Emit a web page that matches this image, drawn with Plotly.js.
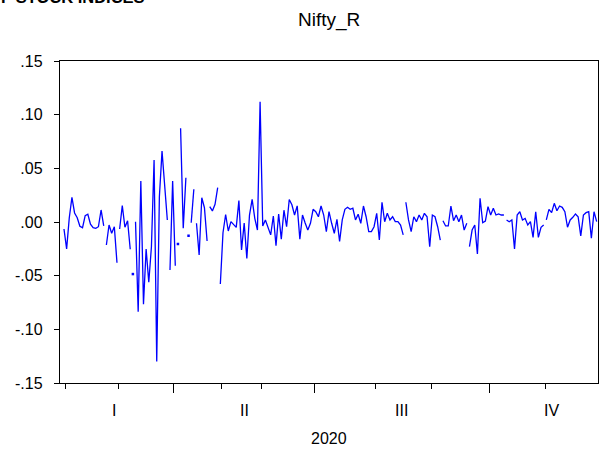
<!DOCTYPE html>
<html>
<head>
<meta charset="utf-8">
<script src="https://cdn.plot.ly/plotly-3.0.1.min.js"></script>
<style>html,body{margin:0;padding:0;background:#fff;}#chart{width:599px;height:450px;}</style>
</head>
<body>
<div id="chart"></div>
<script>
// Nifty_R daily returns, observation order (2020)
const niftyR = [
  -0.0065, -0.025, 0.004, 0.023, 0.0084, 0.004, -0.004, -0.0053, 0.0059, 0.0072, -0.0021, -0.0053, -0.0059, -0.0044, 0.0112, -0.0037,
  -0.0214, -0.0028, -0.0105, -0.0044, -0.038,
  -0.0065, 0.0152, -0.0049, 0.0012, -0.0254,
  -0.0485,
  0.0003, -0.0836, 0.0382, -0.0767, -0.0252, -0.0562, -0.023, 0.0578, -0.130, 0.0236, 0.066, 0.0298, 0.0019,
  -0.0447, 0.0382, -0.0407,
  -0.0205,
  0.0873, -0.0059, 0.0413,
  -0.0128,
  -0.0007, 0.0305,
  -0.0012, -0.0308, 0.0226, 0.0133, -0.0177,
  0.0143, 0.0103, 0.0165, 0.032,
  -0.0578, -0.01, 0.007, -0.0084, 0.0003, -0.002, -0.005, 0.020, -0.026, -0.001, -0.034, 0.0065, 0.021, 0.0034, -0.0075, 0.112, -0.0037, 0.0019, -0.005, -0.012, 0.0056, -0.022, 0.0075, -0.016, 0.011, -0.0044, 0.021, 0.016, 0.0065, 0.015, -0.016, 0.0065, -0.001, -0.0075, -0.0012,
  0.0118, 0.0096, 0.0049, 0.0149, 0.0065, -0.009, 0.0096, -0.0012, -0.0105, 0.0025, -0.018, 0.0019, 0.0118, 0.0137, 0.0118, 0.0128, 0.0019, 0.0072, -0.0012, 0.0149, 0.0049, -0.009, -0.009, -0.0044, 0.0081, -0.0168, 0.0184, 0.0003, 0.0081, 0.0019, 0.0049, 0.0003, 0.0003, -0.0028, -0.012,
  0.0184, 0.0019, -0.009, 0.0049, 0.0003, 0.0065, 0.0019, 0.0081, 0.0049, -0.023, 0.0065, 0.0049, -0.0044, -0.0168,
  0.0012, -0.0037, -0.0037, 0.0149, 0.0012, 0.0065, 0.0003, 0.0065, -0.0075, -0.0012,
  -0.023, -0.0075, -0.0028, -0.0298, 0.0221, -0.0007, 0.0009, 0.0143, 0.0065, 0.0128, 0.0065, 0.0075, 0.0065, 0.0065,
  0.0019, 0.0003, 0.0019, -0.0252, 0.0065, 0.0096, 0.0019, 0.0034, -0.0028, 0.0003, -0.0143, 0.0096, -0.0143, -0.0049, -0.0028,
  0.0019, 0.0118, 0.0087, 0.0174, 0.0105, 0.0149, 0.0137, 0.0096, -0.0049, 0.0019, 0.0044, 0.0075, 0.0049, -0.013, 0.0065, 0.0087, 0.0096, -0.0152, 0.0096, 0.0003
];
// observations where the line restarts after a missing value
const segStarts = [16, 21, 26, 27, 40, 43, 44, 47, 48, 50, 55, 59, 129, 143, 153, 167, 182];
// month boundaries (observation index) and quarter labels
const quarterStarts = [42, 95, 161];
const monthStarts = [1, 21, 60, 75, 118, 139, 182];
const quarterLabels = ['I', 'II', 'III', 'IV'];
const quarterCenters = [19, 68, 127.5, 184];
const yTickVals = [-0.15, -0.10, -0.05, 0.00, 0.05, 0.10, 0.15];
const yTickText = ['-.15', '-.10', '-.05', '.00', '.05', '.10', '.15'];
const yearLabel = '2020';
const seriesName = 'Nifty_R';
const pageTitle = 'F STOCK INDICES';

const blue = '#0000FF';
const bounds = [0].concat(segStarts).concat([niftyR.length]);
const traces = [];
for (let s = 0; s < bounds.length - 1; s++) {
  const xs = [], ys = [];
  for (let i = bounds[s]; i < bounds[s + 1]; i++) { xs.push(i); ys.push(niftyR[i]); }
  if (xs.length > 1) {
    traces.push({x: xs, y: ys, type: 'scatter', mode: 'lines', line: {color: blue, width: 1.3}, showlegend: false, hoverinfo: 'skip'});
  } else {
    traces.push({x: xs, y: ys, type: 'scatter', mode: 'markers', marker: {color: blue, size: 2.5, symbol: 'square'}, showlegend: false, hoverinfo: 'skip'});
  }
}

const font = 'Liberation Sans, Arial, sans-serif';
const annotations = quarterLabels.map((t, k) => ({
  text: t, x: quarterCenters[k], xref: 'x', y: -0.085, yref: 'paper', showarrow: false,
  font: {family: font, size: 16, color: '#000'}, xanchor: 'center', yanchor: 'middle'
}));
annotations.push({text: yearLabel, x: 0.5, xref: 'paper', y: -0.172, yref: 'paper', showarrow: false,
  font: {family: font, size: 16, color: '#000'}, xanchor: 'center', yanchor: 'middle'});
annotations.push({text: seriesName, x: 0.5, xref: 'paper', y: 1.127, yref: 'paper', showarrow: false,
  font: {family: font, size: 19, color: '#000'}, xanchor: 'center', yanchor: 'middle'});
annotations.push({text: '<b>' + pageTitle + '</b>', x: -0.114, xref: 'paper', y: 1.199, yref: 'paper', showarrow: false,
  font: {family: font, size: 16.5, color: '#000'}, xanchor: 'left', yanchor: 'middle'});

const layout = {
  width: 599, height: 450,
  margin: {l: 60, r: 1, t: 61, b: 67, pad: 0},
  paper_bgcolor: '#fff', plot_bgcolor: '#fff',
  xaxis: {
    range: [-1.5, 201.5], showgrid: false, zeroline: false,
    showline: true, linecolor: '#000', linewidth: 1.2, mirror: true,
    tickmode: 'array', tickvals: quarterStarts.map(v => v - 0.5), ticktext: quarterStarts.map(() => ''),
    ticks: 'outside', ticklen: 9, tickwidth: 1, tickcolor: '#000',
    minor: {tickmode: 'array', tickvals: monthStarts.map(v => v - 0.5), ticks: 'outside', ticklen: 5, tickwidth: 1, tickcolor: '#000', showgrid: false},
    fixedrange: true
  },
  yaxis: {
    range: [-0.15, 0.15], showgrid: false, zeroline: false,
    showline: true, linecolor: '#000', linewidth: 1.2, mirror: true,
    tickmode: 'array', tickvals: yTickVals, ticktext: yTickText,
    ticks: 'outside', ticklen: 5, tickwidth: 1, tickcolor: '#000',
    ticklabelstandoff: 8,
    tickfont: {family: font, size: 16, color: '#000'},
    fixedrange: true
  },
  annotations: annotations,
  showlegend: false
};
Plotly.newPlot('chart', traces, layout, {staticPlot: true, displayModeBar: false});
</script>
</body>
</html>
